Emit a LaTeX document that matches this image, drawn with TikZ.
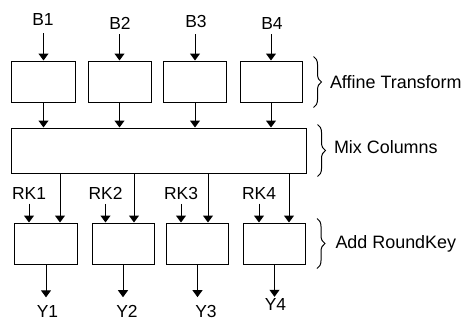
\documentclass[tikz,border=0pt]{standalone}
\usepackage{fontspec}
\setmainfont{Liberation Sans}
\usetikzlibrary{arrows.meta, positioning, calc, decorations.pathreplacing}
\tikzset{
    % Boxes with sharp corners
    block/.style={
        rectangle,
        draw=black,
        line width=1bp,
        minimum width=63bp,
        minimum height=41bp,
        inner sep=0pt
    },
    wide block/.style={
        block,
        minimum width=294bp,
        minimum height=45bp
    },
    sig label/.style={
        inner sep=0pt,
        font=\fontsize{17.5}{20}\selectfont
    },
    stage label/.style={
        anchor=west,
        inner sep=0pt,
        font=\fontsize{18}{21}\selectfont
    },
    arrow style/.style={
        -{Triangle[width=10bp,length=7bp]},
        line width=1bp,
        black
    },
    brace style/.style={
        decorate,
        decoration={brace, amplitude=8bp},
        line width=1bp,
        black
    }
}

\begin{document}
\begin{tikzpicture}[x=1bp, y=-1bp]
        \useasboundingbox (0,0) rectangle (469,320);

        % Affine transform row
        \node[block] (aff1) at (43.5, 81.5) {};
        \node[block] (aff2) at (119.5, 81.5) {};
        \node[block] (aff3) at (195, 81.5) {};
        \node[block, minimum width=62bp] (aff4) at (271, 81.5) {};

        % Inputs
        \node[sig label] (b1) at (43, 19) {B1};
        \node[sig label] (b2) at (120, 23) {B2};
        \node[sig label] (b3) at (196, 21) {B3};
        \node[sig label] (b4) at (272, 23) {B4};

        \draw[arrow style, shorten <=8bp] (b1.south -| aff1.north) -- (aff1.north);
        \draw[arrow style, shorten <=5bp] (b2.south -| aff2.north) -- (aff2.north);
        \draw[arrow style, shorten <=7bp] (b3.south -| aff3.north) -- (aff3.north);
        \draw[arrow style, shorten <=5bp] (b4.south -| aff4.north) -- (aff4.north);

        % Mix columns
        \node[wide block] (mix) at (159, 150.5) {};

        \draw[arrow style] (aff1.south) -- (aff1.south |- mix.north);
        \draw[arrow style] (aff2.south) -- (aff2.south |- mix.north);
        \draw[arrow style] (aff3.south) -- (aff3.south |- mix.north);
        \draw[arrow style] (aff4.south) -- (aff4.south |- mix.north);

        % Add round key row
        \node[block, minimum width=62bp] (add1) at (46, 243.5) {};
        \node[block, minimum width=62bp] (add2) at (123, 243.5) {};
        \node[block, minimum width=62bp] (add3) at (197.5, 243.5) {};
        \node[block, minimum width=62bp] (add4) at (274.5, 243.5) {};

        \coordinate (m1) at ([xshift=14bp]add1.north);
        \coordinate (m2) at ([xshift=11bp]add2.north);
        \coordinate (m3) at ([xshift=10.5bp]add3.north);
        \coordinate (m4) at ([xshift=14.5bp]add4.north);
        \draw[arrow style] (m1 |- mix.south) -- (m1);
        \draw[arrow style] (m2 |- mix.south) -- (m2);
        \draw[arrow style] (m3 |- mix.south) -- (m3);
        \draw[arrow style] (m4 |- mix.south) -- (m4);

        % Round keys
        \node[sig label] (rk1) at (29, 193.5) {RK1};
        \node[sig label] (rk2) at (105.5, 193.5) {RK2};
        \node[sig label] (rk3) at (181, 193.5) {RK3};
        \node[sig label] (rk4) at (259, 193.5) {RK4};

        \draw[arrow style, shorten <=4bp] (rk1.south) -- (rk1.south |- add1.north);
        \draw[arrow style, shorten <=4bp] (rk2.south) -- (rk2.south |- add2.north);
        \draw[arrow style, shorten <=4bp] (rk3.south) -- (rk3.south |- add3.north);
        \draw[arrow style, shorten <=4bp] (rk4.south) -- (rk4.south |- add4.north);

        % Outputs
        \node[sig label] (y1) at (47.5, 311.5) {Y1};
        \node[sig label] (y2) at (127, 311.5) {Y2};
        \node[sig label] (y3) at (206, 311.5) {Y3};
        \node[sig label] (y4) at (275.5, 304) {Y4};

        \draw[arrow style, shorten >=8bp] (add1.south) -- (add1.south |- y1.north);
        \draw[arrow style, shorten >=8bp] (add2.south) -- (add2.south |- y2.north);
        \draw[arrow style, shorten >=8bp] (add3.south) -- (add3.south |- y3.north);
        \draw[arrow style, shorten >=1bp] (add4.south) -- (add4.south |- y4.north);

        % Stage braces
        \draw[brace style] ([xshift=11bp, yshift=4bp]aff4.north east) --
            node[stage label, right=16bp] {Affine Transform}
            ([xshift=11bp, yshift=-5bp]aff4.south east);
        \draw[brace style] ([xshift=11bp, yshift=3bp]mix.north east) --
            node[stage label, right=16bp, yshift=3bp] {Mix Columns}
            ([xshift=11bp, yshift=-3bp]mix.south east);
        \draw[brace style] ([xshift=11bp, yshift=4bp]add4.north east) --
            node[stage label, right=18bp] {Add RoundKey}
            ([xshift=11bp, yshift=-4bp]add4.south east);
\end{tikzpicture}
\end{document}
